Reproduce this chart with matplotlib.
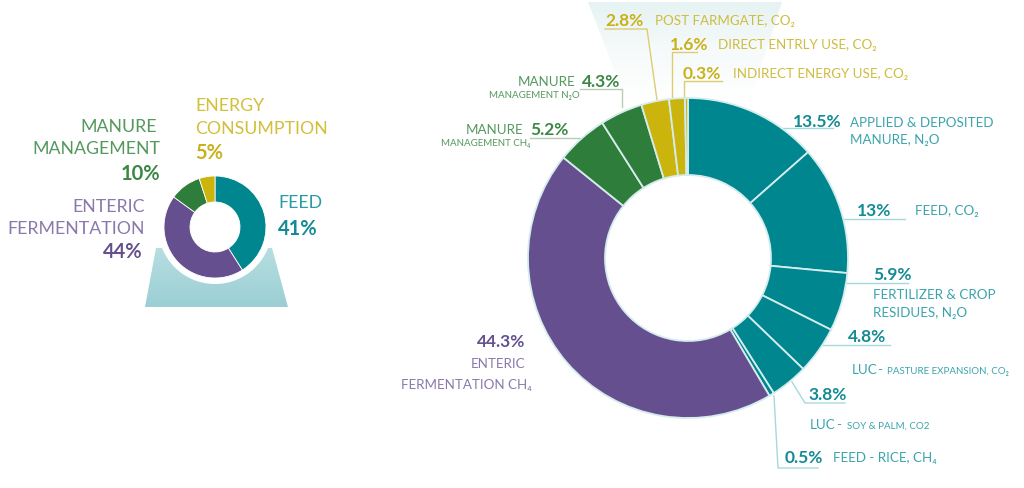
import numpy as np
import matplotlib
matplotlib.use("Agg")
import matplotlib.pyplot as plt
from matplotlib.patches import Polygon, Circle
from matplotlib.colors import LinearSegmentedColormap

plt.rcParams['font.family'] = ['Lato', 'DejaVu Sans']

# データ(左:カテゴリ別合計, 右:内訳)
small_names = ['FEED', 'ENTERIC FERMENTATION', 'MANURE MANAGEMENT', 'ENERGY CONSUMPTION']
small_vals = [41, 44, 10, 5]

big_pcts = [13.5, 13, 5.9, 4.8, 3.8, 0.5, 44.3, 5.2, 4.3, 2.8, 1.6, 0.3]
big_labels = ['APPLIED & DEPOSITED\nMANURE, N₂O', 'FEED, CO₂', 'FERTILIZER & CROP\nRESIDUES, N₂O',
              'PASTURE EXPANSION, CO₂', 'SOY & PALM, CO2', 'FEED - RICE, CH₄',
              'ENTERIC\nFERMENTATION CH₄', 'MANAGEMENT CH₄', 'MANAGEMENT N₂O',
              'POST FARMGATE, CO₂', 'DIRECT ENTRLY USE, CO₂', 'INDIRECT ENERGY USE, CO₂']

# 色
TEAL = '#00868f'
PURPLE = '#664f8e'
GREEN = '#2f7d3b'
YELLOW = '#cbb40c'
big_colors = [TEAL] * 6 + [PURPLE] + [GREEN] * 2 + [YELLOW] * 3
small_colors = [TEAL, PURPLE, GREEN, YELLOW]

T_B, T_L, T_LINE = '#148b94', '#3aa4ad', '#a6d9dc'
Y_B, Y_L, Y_LINE = '#c9b11a', '#cdbd3e', '#dccd72'
G_B, G_L, G_LINE = '#3b8744', '#55985e', '#b5cdb7'
P_B, P_L = '#65508f', '#8a79ad'

fig = plt.figure(figsize=(10.24, 4.88), dpi=100)
ax = fig.add_axes([0, 0, 1, 1])

# 背景の台形(左)
grad = np.linspace(0, 1, 100).reshape(-1, 1)
trap = Polygon([(156, 248), (272, 248), (288, 307), (145, 307)], closed=True, fc='none', ec='none')
ax.add_patch(trap)
im = ax.imshow(grad, extent=(140, 295, 307, 245), cmap=LinearSegmentedColormap.from_list('g', ['#b8dfe2', '#9bcfd3']),
               aspect='auto', zorder=1)
im.set_clip_path(trap)
ax.add_patch(Circle((215, 227), 57, fc='white', ec='none', zorder=2))

# 背景(右上)
fan = Polygon([(588, 2), (782, 2), (750, 100), (626, 100)], closed=True, fc='none', ec='none')
ax.add_patch(fan)
im2 = ax.imshow(grad, extent=(580, 790, 100, 0), cmap=LinearSegmentedColormap.from_list('f', ['#e6f2f3', '#f6fafa', '#ffffff']),
                aspect='auto', zorder=1)
im2.set_clip_path(fan)

# ドーナツ
ax.pie(small_vals, colors=small_colors, startangle=-90, counterclock=True, center=(215, 227), radius=51,
       wedgeprops=dict(width=26, edgecolor='white', linewidth=0.6, zorder=3))
ax.pie(big_pcts, colors=big_colors, startangle=-90, counterclock=True, center=(688, 258), radius=160,
       wedgeprops=dict(width=77, edgecolor='#d4ecec', linewidth=1.3, zorder=3))

ax.set_xlim(0, 1024)
ax.set_ylim(488, 0)
ax.set_aspect('auto')
ax.axis('off')

# 左のラベル
SN = 12.8
SB = 14.5
ax.text(157, 127, 'MANURE', ha='right', va='center', fontsize=SN, color=G_L)
ax.text(160, 149, 'MANAGEMENT', ha='right', va='center', fontsize=SN, color=G_L)
ax.text(160, 174, f'{small_vals[2]}%', ha='right', va='center', fontsize=SB, fontweight='bold', color=G_B)
ax.text(195, 106, 'ENERGY', ha='left', va='center', fontsize=SN, color='#d2c03a')
ax.text(195, 129, 'CONSUMPTION', ha='left', va='center', fontsize=SN, color='#d2c03a')
ax.text(195, 153, f'{small_vals[3]}%', ha='left', va='center', fontsize=SB, fontweight='bold', color=Y_B)
ax.text(278, 203, 'FEED', ha='left', va='center', fontsize=SN, color='#2a9ca4')
ax.text(278, 229, f'{small_vals[0]}%', ha='left', va='center', fontsize=SB, fontweight='bold', color=T_B)
ax.text(145, 207, 'ENTERIC', ha='right', va='center', fontsize=SN, color=P_L)
ax.text(145, 229, 'FERMENTATION', ha='right', va='center', fontsize=SN, color=P_L)
ax.text(143, 252, f'{small_vals[1]}%', ha='right', va='center', fontsize=SB, fontweight='bold', color=P_B)


def pct(v):
    return f'{v:g}%'


BOLD = 12.5
REG = 9.6
SMALL = 7.0

# 黄色
ax.text(605, 21, pct(big_pcts[9]), fontsize=BOLD, fontweight='bold', color=Y_B, va='center')
ax.text(655, 21, big_labels[9], fontsize=REG, color=Y_L, va='center')
ax.plot([605, 647, 657], [29, 29, 100], color=Y_LINE, lw=1, zorder=2)
ax.text(670, 45, pct(big_pcts[10]), fontsize=BOLD, fontweight='bold', color=Y_B, va='center')
ax.text(718, 45, big_labels[10], fontsize=REG, color=Y_L, va='center')
ax.plot([697, 672, 672], [52, 52, 99], color=Y_LINE, lw=1, zorder=2)
ax.text(683, 74, pct(big_pcts[11]), fontsize=BOLD, fontweight='bold', color=Y_B, va='center')
ax.text(733, 74, big_labels[11], fontsize=REG, color=Y_L, va='center')
ax.plot([722, 684, 684], [81, 81, 98], color=Y_LINE, lw=1, zorder=2)

# 緑
ax.text(575, 82, 'MANURE', fontsize=REG, color=G_L, va='center', ha='right')
ax.text(582, 82, pct(big_pcts[8]), fontsize=BOLD, fontweight='bold', color=G_B, va='center')
ax.text(580, 96, big_labels[8], fontsize=SMALL, color=G_L, va='center', ha='right')
ax.plot([580, 622, 622], [89, 89, 107], color=G_LINE, lw=1, zorder=2)
ax.text(523, 130, 'MANURE', fontsize=REG, color=G_L, va='center', ha='right')
ax.text(530, 130, pct(big_pcts[7]), fontsize=BOLD, fontweight='bold', color=G_B, va='center')
ax.text(530, 144, big_labels[7], fontsize=SMALL, color=G_L, va='center', ha='right')
ax.plot([530, 580], [138, 138], color=G_LINE, lw=1, zorder=2)

# 紫
ax.text(525, 342, pct(big_pcts[6]), fontsize=BOLD, fontweight='bold', color=P_B, va='center', ha='right')
ax.text(525, 364, 'ENTERIC', fontsize=REG, color=P_L, va='center', ha='right')
ax.text(532, 385, 'FERMENTATION CH₄', fontsize=REG, color=P_L, va='center', ha='right')

# 青緑
ax.text(793, 122, pct(big_pcts[0]), fontsize=BOLD, fontweight='bold', color=T_B, va='center')
ax.text(850, 123, 'APPLIED & DEPOSITED', fontsize=REG, color=T_L, va='center')
ax.text(850, 140, 'MANURE, N₂O', fontsize=REG, color=T_L, va='center')
ax.plot([782, 833], [128, 128], color=T_LINE, lw=1, zorder=2)

ax.text(857, 211, pct(big_pcts[1]), fontsize=BOLD, fontweight='bold', color=T_B, va='center')
ax.text(915, 211, big_labels[1], fontsize=REG, color=T_L, va='center')
ax.plot([843, 905], [219, 219], color=T_LINE, lw=1, zorder=2)

ax.text(873, 275, pct(big_pcts[2]), fontsize=BOLD, fontweight='bold', color=T_B, va='center')
ax.text(873, 295, 'FERTILIZER & CROP', fontsize=REG, color=T_L, va='center')
ax.text(873, 313, 'RESIDUES, N₂O', fontsize=REG, color=T_L, va='center')
ax.plot([846, 908], [283, 283], color=T_LINE, lw=1, zorder=2)

ax.text(848, 337, pct(big_pcts[3]), fontsize=BOLD, fontweight='bold', color=T_B, va='center')
ax.plot([822, 890], [345, 345], color=T_LINE, lw=1, zorder=2)
ax.text(852, 370, 'LUC', fontsize=REG, color=T_L, va='center')
ax.text(877, 370, '-', fontsize=REG, color=T_L, va='center')
ax.text(887, 371, big_labels[3], fontsize=SMALL, color=T_L, va='center')

ax.text(808, 395, pct(big_pcts[4]), fontsize=BOLD, fontweight='bold', color=T_B, va='center')
ax.plot([792, 805, 845], [382, 403, 403], color=T_LINE, lw=1, zorder=2)
ax.text(810, 425, 'LUC', fontsize=REG, color=T_L, va='center')
ax.text(836, 425, '-', fontsize=REG, color=T_L, va='center')
ax.text(847, 426, big_labels[4], fontsize=SMALL, color=T_L, va='center')

ax.text(785, 458, pct(big_pcts[5]), fontsize=BOLD, fontweight='bold', color=T_B, va='center')
ax.text(833, 458, big_labels[5], fontsize=REG, color=T_L, va='center')
ax.plot([774, 778, 818], [396, 468, 468], color=T_LINE, lw=1, zorder=2)

fig.savefig('out.png', dpi=100)
